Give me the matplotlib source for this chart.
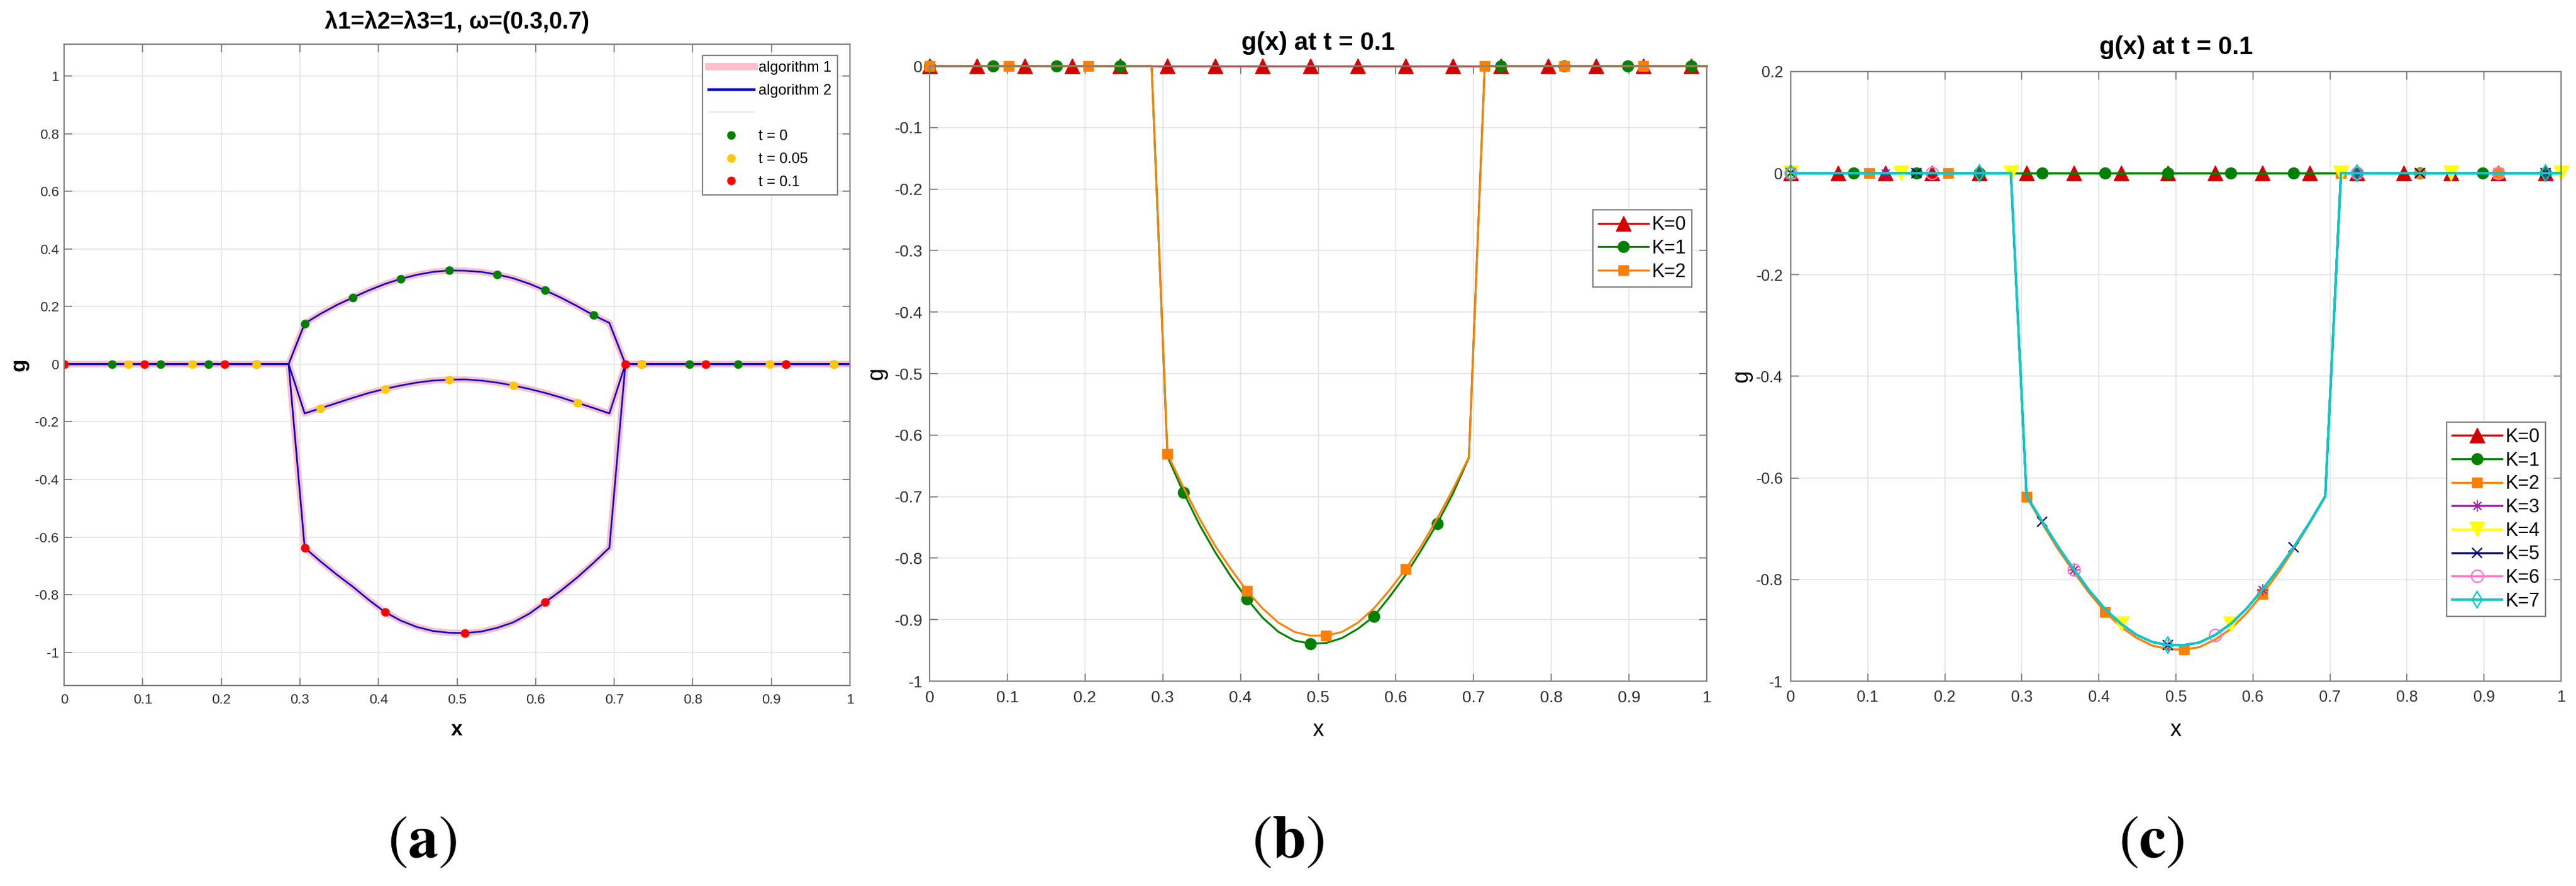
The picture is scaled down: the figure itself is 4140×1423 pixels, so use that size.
import numpy as np
import matplotlib
matplotlib.use('Agg')
import matplotlib.pyplot as plt
from matplotlib.lines import Line2D
from matplotlib.ticker import FuncFormatter

plt.rcParams['font.family'] = ['Liberation Sans', 'DejaVu Sans']
plt.rcParams['axes.unicode_minus'] = False
plt.rcParams['mathtext.fontset'] = 'stix'

# grid of 50 points on [0, 1]; g is zero outside points 15..34
x = np.linspace(0, 1, 50)
flat = [0.0] * 15

# (a) g at t = 0, 0.05, 0.1 (points 15..34)
g_t0_mid = [0.141, 0.175, 0.205, 0.231, 0.256, 0.278, 0.296, 0.310, 0.320, 0.325,
            0.324, 0.320, 0.311, 0.298, 0.279, 0.256, 0.230, 0.201, 0.170, 0.143]
g_t005_mid = [-0.171, -0.153, -0.135, -0.117, -0.100, -0.086, -0.074, -0.064, -0.057, -0.054,
              -0.053, -0.057, -0.064, -0.074, -0.086, -0.100, -0.116, -0.134, -0.152, -0.171]
g_t01_mid = [-0.637, -0.685, -0.730, -0.772, -0.818, -0.860, -0.890, -0.912, -0.926, -0.932,
             -0.933, -0.928, -0.915, -0.896, -0.866, -0.826, -0.785, -0.740, -0.690, -0.637]
t_labels = ['t = 0', 't = 0.05', 't = 0.1']

# (b) g(x) at t = 0.1 for K = 0, 1, 2
gb_k1_mid = [-0.635, -0.693, -0.745, -0.790, -0.830, -0.866, -0.897, -0.920, -0.934, -0.939,
             -0.938, -0.930, -0.915, -0.895, -0.863, -0.828, -0.787, -0.744, -0.695, -0.637]
gb_k2_mid = [-0.631, -0.685, -0.735, -0.780, -0.818, -0.853, -0.882, -0.905, -0.920, -0.926,
             -0.926, -0.920, -0.905, -0.882, -0.852, -0.818, -0.780, -0.736, -0.688, -0.636]

# (c) g(x) at t = 0.1 for K = 0..7 (K=0,1 stay at zero)
gc_k2_mid = [-0.637, -0.690, -0.740, -0.785, -0.827, -0.864, -0.893, -0.915, -0.930, -0.937,
             -0.938, -0.933, -0.918, -0.897, -0.866, -0.829, -0.787, -0.740, -0.690, -0.637]
gc_k3to7_mid = [-0.635, -0.686, -0.735, -0.780, -0.822, -0.858, -0.887, -0.909, -0.923, -0.929,
                -0.929, -0.924, -0.909, -0.887, -0.857, -0.820, -0.780, -0.736, -0.688, -0.636]
k_labels_b = ['K=0', 'K=1', 'K=2']
k_labels_c = ['K=0', 'K=1', 'K=2', 'K=3', 'K=4', 'K=5', 'K=6', 'K=7']


def full(mid):
    return np.array(flat + mid + flat)


zeros = np.zeros(50)
g_a = [full(g_t0_mid), full(g_t005_mid), full(g_t01_mid)]
g_b = [zeros, full(gb_k1_mid), full(gb_k2_mid)]
g_c = [zeros, zeros, full(gc_k2_mid)] + [full(gc_k3to7_mid)] * 5

fmt = FuncFormatter(lambda v, p: f'{round(v, 2) + 0.0:g}')


def style(ax, fs, ylim, yticks, xpad, ypad):
    ax.set_xlim(0, 1)
    ax.set_ylim(*ylim)
    ax.set_xticks(np.round(np.arange(0, 1.01, 0.1), 1))
    ax.set_yticks(yticks)
    ax.xaxis.set_major_formatter(fmt)
    ax.yaxis.set_major_formatter(fmt)
    ax.grid(True, color='#e4e4e4', lw=1.2)
    ax.set_axisbelow(True)
    ax.tick_params(direction='in', top=True, right=True, length=9, width=1.2,
                   color='#777777', labelsize=fs, labelcolor='#303030')
    ax.tick_params(axis='x', pad=xpad)
    ax.tick_params(axis='y', pad=ypad)
    for s in ax.spines.values():
        s.set_color('#808080')
        s.set_linewidth(1.6)


def px_axes(left, right, top, bottom):
    W, H = 4140, 1423
    return [left / W, 1 - bottom / H, (right - left) / W, (bottom - top) / H]


fig = plt.figure(figsize=(41.4, 14.23), dpi=100)

# ---------------- (a) ----------------
ax1 = fig.add_axes(px_axes(103, 1366, 71, 1101))
for g in g_a:
    ax1.plot(x, g, color='#ffc0cb', lw=7.5)
for g in g_a:
    ax1.plot(x, g, color='#0000cd', lw=1.9)
dot_colors = ['#008000', '#ffc800', '#ff0000']
dot_every = [3, 4, 5]
for g, c, k in zip(g_a, dot_colors, dot_every):
    ax1.plot(x, g, ls='none', marker='o', ms=9, color=c, markevery=k)
style(ax1, 16, (-1.115, 1.11), np.round(np.arange(-1, 1.01, 0.2), 1), 9, 6)
ax1.set_title('λ1=λ2=λ3=1, ω=(0.3,0.7)', fontsize=27, fontweight='bold', y=1.026, va='center')
ax1.set_xlabel('x', fontsize=24, fontweight='bold', va='center')
ax1.xaxis.set_label_coords(0.5, -0.069)
ax1.set_ylabel('g', fontsize=24, fontweight='bold', va='center')
ax1.yaxis.set_label_coords(-0.057, 0.5)

handles = [Line2D([], [], color='#ffc0cb', lw=8.5),
           Line2D([], [], color='#0000cd', lw=3.2),
           Line2D([], [], color='#dcecf8', lw=1.4)]
handles += [Line2D([], [], ls='none', marker='o', ms=9, color=c) for c in dot_colors]
leg = ax1.legend(handles, ['algorithm 1', 'algorithm 2', ''] + t_labels,
                 loc='upper right', bbox_to_anchor=(0.984, 0.9825), borderaxespad=0,
                 fontsize=17, fancybox=False, edgecolor='#808080', framealpha=1,
                 handlelength=3.1, handletextpad=0.3, labelspacing=0.62,
                 borderpad=0.4, numpoints=1)
leg.get_frame().set_linewidth(1.6)

# ---------------- (b) ----------------
ax2 = fig.add_axes(px_axes(1494, 2743, 106, 1094))
specs_b = [dict(color='#d40000', marker='^', ms=17, markevery=3),
           dict(color='#008000', marker='o', ms=13, markevery=4),
           dict(color='#ff8000', marker='s', ms=11, markevery=5)]
for g, sp, lab in zip(g_b, specs_b, k_labels_b):
    ax2.plot(x, g, lw=2.2, clip_on=False, label=lab, **sp)
style(ax2, 19, (-1, 0), np.round(np.arange(-1, 0.01, 0.1), 1), 11, 8)
ax2.set_title('g(x) at t = 0.1', fontsize=29, fontweight='bold', y=1.029, va='center')
ax2.set_xlabel('x', fontsize=26, va='center')
ax2.xaxis.set_label_coords(0.5, -0.079)
ax2.set_ylabel('g', fontsize=26, va='center')
ax2.yaxis.set_label_coords(-0.068, 0.5)
leg = ax2.legend(loc='upper right', bbox_to_anchor=(0.981, 0.766), borderaxespad=0,
                 fontsize=22, fancybox=False, edgecolor='#808080', framealpha=1,
                 handlelength=2.6, handletextpad=0.2, labelspacing=0.25,
                 borderpad=0.3, numpoints=1)
leg.get_frame().set_linewidth(1.6)

# ---------------- (c) ----------------
ax3 = fig.add_axes(px_axes(2878, 4116, 115, 1094))
specs_c = [dict(color='#d40000', marker='^', ms=17, markevery=3),
           dict(color='#008000', marker='o', ms=13, markevery=4),
           dict(color='#ff8000', marker='s', ms=11, markevery=5),
           dict(color='#a0209f', marker=(8, 2, 0), ms=13, markevery=6),
           dict(color='#ffff00', marker='v', ms=17, markevery=7),
           dict(color='#00007f', marker='x', ms=12, mew=1.6, markevery=8),
           dict(color='#ff77cc', marker='o', ms=14, mfc='none', mew=1.6, markevery=9),
           dict(color='#00cccc', marker='d', ms=13, mfc='none', mew=1.6, markevery=12)]
for g, sp, lab in zip(g_c, specs_c, k_labels_c):
    lw = 2.8 if lab == 'K=7' else 2.4
    ax3.plot(x, g, lw=lw, clip_on=False, label=lab, **sp)
style(ax3, 18, (-1, 0.2), np.round(np.arange(-1, 0.21, 0.2), 1), 10, 9)
ax3.set_title('g(x) at t = 0.1', fontsize=29, fontweight='bold', y=1.0317, va='center')
ax3.set_xlabel('x', fontsize=26, va='center')
ax3.xaxis.set_label_coords(0.5, -0.0797)
ax3.set_ylabel('g', fontsize=26, va='center')
ax3.yaxis.set_label_coords(-0.064, 0.5)
leg = ax3.legend(loc='upper right', bbox_to_anchor=(0.980, 0.425), borderaxespad=0,
                 fontsize=22, fancybox=False, edgecolor='#808080', framealpha=1,
                 handlelength=2.6, handletextpad=0.2, labelspacing=0.25,
                 borderpad=0.3, numpoints=1)
leg.get_frame().set_linewidth(1.6)

# panel letters
for cx, letter in zip([678, 2070, 3458], ['a', 'b', 'c']):
    fig.text(cx / 4140, 1 - 1354 / 1423, '($\\mathbf{' + letter + '}$)', fontsize=70,
             ha='center', va='center', family='STIXGeneral')

fig.savefig('out.png', dpi=100)
